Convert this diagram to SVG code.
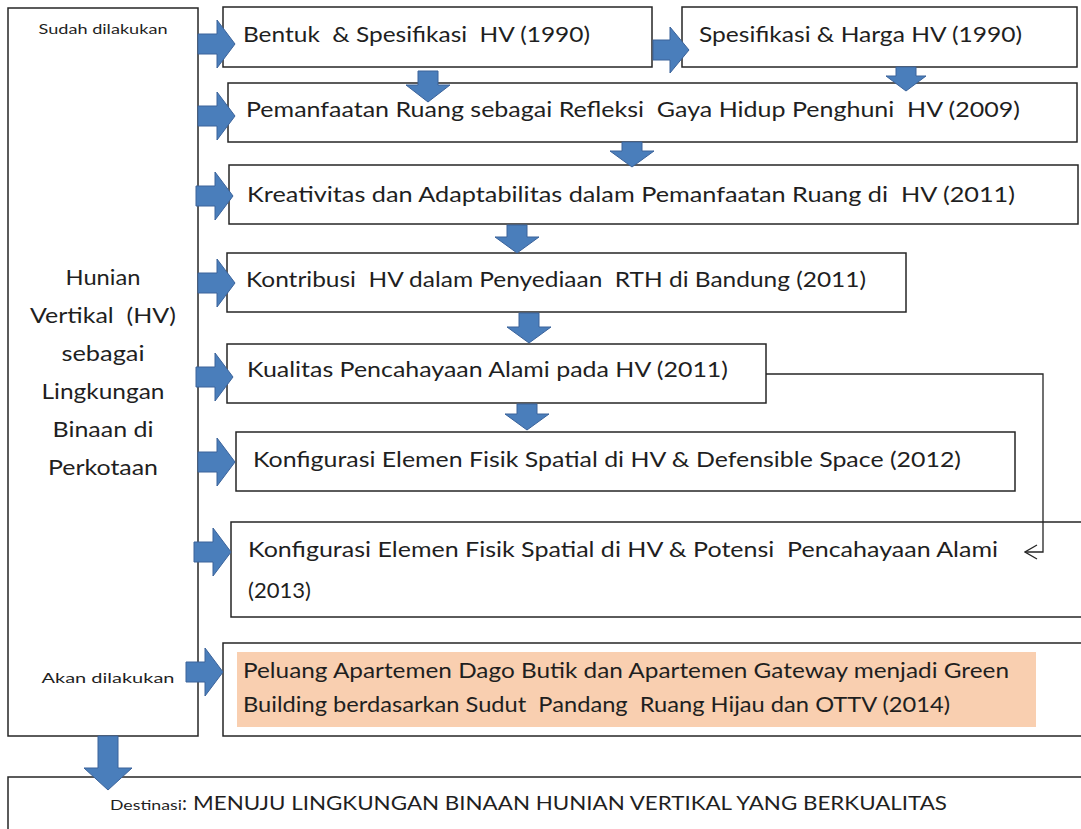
<svg xmlns="http://www.w3.org/2000/svg" width="1081" height="829" viewBox="0 0 1081 829">
<defs>
<style>
.box{fill:#ffffff;stroke:#262626;stroke-width:1.5}
.t{font-family:Lato,"Liberation Sans",sans-serif;font-size:21px;fill:#1f1f1f;white-space:pre}
.s{font-family:Lato,"Liberation Sans",sans-serif;font-size:14px;fill:#1f1f1f}
.arr{fill:#4a7ebb;stroke:#3a629a;stroke-width:1}
.con{fill:none;stroke:#262626;stroke-width:1.3}
</style>
<path id="ra" d="M -37,-10 H -18 V -24 L 0,0 L -18,24 V 10 H -37 Z"/>
<marker id="open" viewBox="0 0 14 16" refX="13" refY="8" markerWidth="14" markerHeight="16" markerUnits="userSpaceOnUse" orient="auto">
<path d="M 1,1 L 13,8 L 1,15" fill="none" stroke="#262626" stroke-width="1.3"/>
</marker>
</defs>
<rect width="1081" height="829" fill="#ffffff"/>

<g id="left">
<rect class="box" x="8" y="8" width="190" height="728"/>
<text class="s" x="103" y="34" text-anchor="middle" textLength="129" lengthAdjust="spacingAndGlyphs">Sudah dilakukan</text>
<text class="t" x="103" y="285" text-anchor="middle" textLength="75" lengthAdjust="spacingAndGlyphs">Hunian</text>
<text class="t" x="103" y="323" text-anchor="middle" textLength="146" lengthAdjust="spacingAndGlyphs">Vertikal  (HV)</text>
<text class="t" x="103" y="361" text-anchor="middle" textLength="83" lengthAdjust="spacingAndGlyphs">sebagai</text>
<text class="t" x="103" y="399" text-anchor="middle" textLength="123" lengthAdjust="spacingAndGlyphs">Lingkungan</text>
<text class="t" x="103" y="437" text-anchor="middle" textLength="101" lengthAdjust="spacingAndGlyphs">Binaan di</text>
<text class="t" x="103" y="475" text-anchor="middle" textLength="110" lengthAdjust="spacingAndGlyphs">Perkotaan</text>
<text class="s" x="108" y="683" text-anchor="middle" textLength="133" lengthAdjust="spacingAndGlyphs">Akan dilakukan</text>
</g>

<g id="n1">
<rect class="box" x="223" y="7" width="429" height="60"/>
<text class="t" x="243" y="42" textLength="347" lengthAdjust="spacingAndGlyphs">Bentuk  &amp; Spesifikasi  HV (1990)</text>
</g>
<g id="n2">
<rect class="box" x="682" y="7" width="395" height="60"/>
<text class="t" x="699" y="42" textLength="323" lengthAdjust="spacingAndGlyphs">Spesifikasi &amp; Harga HV (1990)</text>
</g>
<g id="n3">
<rect class="box" x="228" y="83" width="849" height="59"/>
<text class="t" x="246" y="117" textLength="774" lengthAdjust="spacingAndGlyphs">Pemanfaatan Ruang sebagai Refleksi  Gaya Hidup Penghuni  HV (2009)</text>
</g>
<g id="n4">
<rect class="box" x="229" y="165" width="849" height="59"/>
<text class="t" x="247" y="202" textLength="768" lengthAdjust="spacingAndGlyphs">Kreativitas dan Adaptabilitas dalam Pemanfaatan Ruang di  HV (2011)</text>
</g>
<g id="n5">
<rect class="box" x="227" y="253" width="679" height="59"/>
<text class="t" x="246" y="287" textLength="620" lengthAdjust="spacingAndGlyphs">Kontribusi  HV dalam Penyediaan  RTH di Bandung (2011)</text>
</g>
<g id="n6">
<rect class="box" x="227" y="344" width="539" height="59"/>
<text class="t" x="247" y="377" textLength="481" lengthAdjust="spacingAndGlyphs">Kualitas Pencahayaan Alami pada HV (2011)</text>
</g>
<g id="n7">
<rect class="box" x="236" y="432" width="779" height="59"/>
<text class="t" x="253" y="467" textLength="708" lengthAdjust="spacingAndGlyphs">Konfigurasi Elemen Fisik Spatial di HV &amp; Defensible Space (2012)</text>
</g>
<g id="n8">
<rect class="box" x="231" y="522" width="860" height="95"/>
<text class="t" x="248" y="557" textLength="750" lengthAdjust="spacingAndGlyphs">Konfigurasi Elemen Fisik Spatial di HV &amp; Potensi  Pencahayaan Alami</text>
<text class="t" x="248" y="598" textLength="63" lengthAdjust="spacingAndGlyphs">(2013)</text>
</g>
<g id="n9">
<rect class="box" x="223" y="643" width="868" height="93"/>
<rect x="237" y="652" width="799" height="75" fill="#f9cfb0"/>
<text class="t" x="243" y="678" textLength="766" lengthAdjust="spacingAndGlyphs">Peluang Apartemen Dago Butik dan Apartemen Gateway menjadi Green</text>
<text class="t" x="243" y="712" textLength="707" lengthAdjust="spacingAndGlyphs">Building berdasarkan Sudut  Pandang  Ruang Hijau dan OTTV (2014)</text>
</g>
<g id="n10">
<rect class="box" x="8" y="777" width="1083" height="70"/>
<text x="110" y="810" class="t"><tspan class="s" style="font-size:14px" textLength="72" lengthAdjust="spacingAndGlyphs">Destinasi</tspan><tspan style="font-size:20px">:</tspan></text>
<text class="t" x="193" y="810" style="font-size:20px" textLength="754" lengthAdjust="spacingAndGlyphs">MENUJU LINGKUNGAN BINAAN HUNIAN VERTIKAL YANG BERKUALITAS</text>
</g>

<g id="connectors">
<use href="#ra" class="arr" transform="translate(235,44)"/>
<use href="#ra" class="arr" transform="translate(235,116)"/>
<use href="#ra" class="arr" transform="translate(233,196)"/>
<use href="#ra" class="arr" transform="translate(235,283)"/>
<use href="#ra" class="arr" transform="translate(233,377)"/>
<use href="#ra" class="arr" transform="translate(235,462)"/>
<use href="#ra" class="arr" transform="translate(231,552)"/>
<use href="#ra" class="arr" transform="translate(223,672)"/>
<path class="arr" d="M 653,40 H 670 V 27 L 689,50 L 670,73 V 60 H 653 Z"/>
<path class="arr" d="M 418,71 H 438 V 85 H 450 L 428,102 L 406,85 H 418 Z"/>
<path class="arr" d="M 896,67 H 916 V 76 H 926 L 906,91 L 886,76 H 896 Z"/>
<path class="arr" d="M 622,142 H 642 V 151 H 654 L 632,167 L 610,151 H 622 Z"/>
<path class="arr" d="M 507,225 H 527 V 237 H 539 L 517,253 L 495,237 H 507 Z"/>
<path class="arr" d="M 519,313 H 539 V 327 H 551 L 529,343 L 507,327 H 519 Z"/>
<path class="arr" d="M 517,404 H 537 V 414 H 549 L 527,430 L 505,414 H 517 Z"/>
<path class="arr" d="M 98,736 H 118 V 768 H 132 L 108,790 L 84,768 H 98 Z"/>
<polyline class="con" points="766,374 1043,374 1043,552 1025,552" marker-end="url(#open)"/>
</g>
</svg>
